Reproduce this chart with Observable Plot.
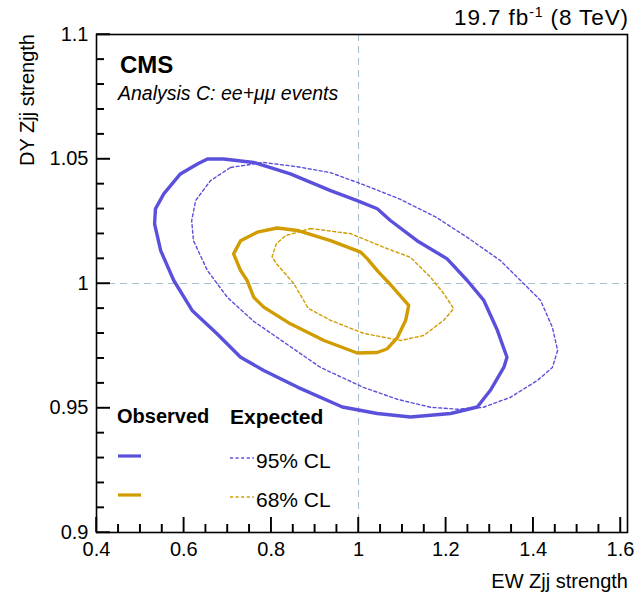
<!DOCTYPE html>
<html>
<head>
<meta charset="utf-8">
<script src="https://cdn.jsdelivr.net/npm/d3@7"></script>
<script src="https://cdn.jsdelivr.net/npm/@observablehq/plot@0.6"></script>
<style>
  html, body { margin: 0; padding: 0; background: #fff; }
  #wrap { position: relative; width: 644px; height: 596px; font-family: "Liberation Sans", Arial, Helvetica, sans-serif; color: #000; }
  .ov { position: absolute; white-space: nowrap; line-height: 1; pointer-events: none; }
</style>
</head>
<body>
<div id="wrap"></div>
<script>
// ---- data (EW Zjj strength, DY Zjj strength) ----
const observed95 = [[0.654,1.050],[0.691,1.050],[0.760,1.0486],[0.844,1.0440],[0.936,1.0373],[0.997,1.0333],[1.043,1.0300],[1.073,1.0253],[1.134,1.0172],[1.203,1.0099],[1.249,1.0012],[1.287,0.9932],[1.318,0.9812],[1.340,0.9704],[1.333,0.9664],[1.302,0.9571],[1.272,0.9504],[1.211,0.9478],[1.119,0.9464],[1.043,0.9478],[0.963,0.9504],[0.860,0.9584],[0.783,0.9651],[0.730,0.9704],[0.676,0.9798],[0.619,0.9892],[0.577,1.0012],[0.547,1.0132],[0.533,1.0239],[0.535,1.0300],[0.554,1.0360],[0.592,1.0440],[0.631,1.0480]];
const expected95 = [[0.707,1.0466],[0.782,1.0486],[0.860,1.0469],[0.936,1.0445],[1.011,1.0397],[1.092,1.0341],[1.179,1.0265],[1.250,1.0184],[1.325,1.0092],[1.378,1.0000],[1.417,0.9932],[1.444,0.9824],[1.456,0.9731],[1.444,0.9663],[1.410,0.9611],[1.348,0.9543],[1.286,0.9503],[1.227,0.9495],[1.165,0.9503],[1.089,0.9535],[1.011,0.9583],[0.913,0.9663],[0.837,0.9755],[0.760,0.9848],[0.700,0.9944],[0.654,1.0052],[0.622,1.0172],[0.618,1.0253],[0.627,1.0333],[0.661,1.0413]];
const observed68 = [[0.814,1.0223],[0.860,1.0213],[0.936,1.0172],[1.005,1.0126],[1.020,1.0100],[1.043,1.0052],[1.073,0.9996],[1.115,0.9912],[1.108,0.9852],[1.089,0.9783],[1.066,0.9738],[1.043,0.9723],[0.997,0.9721],[0.921,0.9771],[0.844,0.9838],[0.783,0.9905],[0.760,0.9945],[0.745,1.0012],[0.730,1.0052],[0.714,1.0119],[0.730,1.0172],[0.768,1.0206]];
const expected68 = [[0.890,1.0221],[0.982,1.0200],[1.057,1.0146],[1.119,1.0105],[1.165,1.0025],[1.195,0.9960],[1.218,0.9899],[1.195,0.9852],[1.149,0.9791],[1.096,0.9771],[1.011,0.9800],[0.936,0.9852],[0.885,0.9900],[0.852,0.9999],[0.812,1.0080],[0.802,1.0108],[0.812,1.0160],[0.833,1.0192]];
const xMajorTicks = [0.4, 0.6, 0.8, 1, 1.2, 1.4, 1.6];
const yMajorTicks = [0.9, 0.95, 1, 1.05, 1.1];
const xDomain = [0.4, 1.616];
const yDomain = [0.9, 1.1];
const smHypothesis = 1; // dashed reference lines
const legendLabels = ["95% CL", "68% CL"];

const BLUE = "#5a50dc";
const GOLD = "#d19c00";
const GRID = "#a9c0cf";

const W = 644, H = 596, mT = 34, mR = 17, mB = 64, mL = 96;
const frameW = W - mL - mR, frameH = H - mT - mB;

const xMinor = d3.range(0, 25).map(i => +(0.4 + i * 0.05).toFixed(2)).filter(v => !xMajorTicks.some(m => Math.abs(m - v) < 1e-6));
const yMinor = d3.range(0, 21).map(i => +(0.9 + i * 0.01).toFixed(2)).filter(v => !yMajorTicks.some(m => Math.abs(m - v) < 1e-6));

const ySpan = yDomain[1] - yDomain[0], xSpan = xDomain[1] - xDomain[0];
const xTickEnd = len => yDomain[0] + ySpan * len / frameH;
const yTickEnd = len => xDomain[0] + xSpan * len / frameW;

const toObj = arr => arr.map(([x, y]) => ({x, y}));

const chart = Plot.plot({
  width: W, height: H,
  marginTop: mT, marginRight: mR, marginBottom: mB, marginLeft: mL,
  style: {fontFamily: '"Liberation Sans", Arial, Helvetica, sans-serif', color: "#000", background: "#fff"},
  x: {domain: xDomain, label: null},
  y: {domain: yDomain, label: null},
  marks: [
    Plot.ruleX([smHypothesis], {stroke: GRID, strokeWidth: 1.1, strokeDasharray: "7,5"}),
    Plot.ruleY([smHypothesis], {stroke: GRID, strokeWidth: 1.1, strokeDasharray: "7,5"}),
    Plot.line(toObj(expected95), {x: "x", y: "y", curve: "linear-closed", stroke: BLUE, strokeWidth: 1.4, strokeDasharray: "3,2.6"}),
    Plot.line(toObj(expected68), {x: "x", y: "y", curve: "linear-closed", stroke: GOLD, strokeWidth: 1.4, strokeDasharray: "3,2.6"}),
    Plot.line(toObj(observed95), {x: "x", y: "y", curve: "linear-closed", stroke: BLUE, strokeWidth: 3.4, strokeLinejoin: "round"}),
    Plot.line(toObj(observed68), {x: "x", y: "y", curve: "linear-closed", stroke: GOLD, strokeWidth: 3.4, strokeLinejoin: "round"}),
    Plot.axisX({anchor: "bottom", ticks: xMajorTicks, tickSize: 0, tickPadding: 9, fontSize: 20, tickFormat: d => String(d)}),
    Plot.axisY({anchor: "left", ticks: yMajorTicks, tickSize: 0, tickPadding: 8, fontSize: 20, tickFormat: d => String(d)}),
    Plot.frame({stroke: "black", strokeWidth: 1.6}),
    Plot.ruleX(xMajorTicks, {x: d => d, y1: yDomain[0], y2: xTickEnd(15), stroke: "black", strokeWidth: 1.4}),
    Plot.ruleX(xMinor, {x: d => d, y1: yDomain[0], y2: xTickEnd(8), stroke: "black", strokeWidth: 1.4}),
    Plot.ruleY(yMajorTicks, {y: d => d, x1: xDomain[0], x2: yTickEnd(14), stroke: "black", strokeWidth: 1.4}),
    Plot.ruleY(yMinor, {y: d => d, x1: xDomain[0], x2: yTickEnd(8), stroke: "black", strokeWidth: 1.4})
  ]
});

const wrap = document.getElementById("wrap");
wrap.appendChild(chart);

// inward ROOT-style ticks, also placed on a top layer through the chart's own scales
(function drawTickLayer() {
  const sx = chart.scale("x"), sy = chart.scale("y");
  const X = v => sx.apply(v), Y = v => sy.apply(v);
  const yBase = Y(yDomain[0]), xBase = X(xDomain[0]);
  const svg = d3.create("svg").attr("width", W).attr("height", H)
    .style("position", "absolute").style("left", "0px").style("top", "0px").style("pointer-events", "none");
  const g = svg.append("g").attr("stroke", "black").attr("stroke-width", 1.4);
  const addX = (vals, len) => vals.forEach(v => g.append("line").attr("x1", X(v)).attr("x2", X(v)).attr("y1", yBase).attr("y2", yBase - len));
  const addY = (vals, len) => vals.forEach(v => g.append("line").attr("y1", Y(v)).attr("y2", Y(v)).attr("x1", xBase).attr("x2", xBase + len));
  addX(xMajorTicks, 15); addX(xMinor, 8);
  addY(yMajorTicks, 14); addY(yMinor, 8);
  wrap.appendChild(svg.node());
})();

function ov(html, style) {
  const d = document.createElement("div");
  d.className = "ov";
  d.innerHTML = html;
  Object.assign(d.style, style);
  wrap.appendChild(d);
  return d;
}
// header
ov('19.7 fb<sup style="font-size:14px;vertical-align:8px;line-height:0">-1</sup> (8 TeV)', {right: "15px", top: "7px", fontSize: "22.5px", letterSpacing: "0.9px"});
// axis titles
ov('EW Zjj strength', {right: "16px", top: "571px", fontSize: "20px"});
ov('DY Zjj strength', {left: "17px", top: "34px", fontSize: "20px", transformOrigin: "0 0", transform: "rotate(-90deg) translateX(-100%)"});
// CMS label
ov('CMS', {left: "120px", top: "53px", fontSize: "24px", fontWeight: "bold"});
ov('Analysis C: ee+μμ events', {left: "118px", top: "84px", fontSize: "19.5px", fontStyle: "italic"});
// legend
ov('Observed', {left: "117px", top: "406px", fontSize: "20px", fontWeight: "bold"});
ov('Expected', {left: "230px", top: "406px", fontSize: "21px", fontWeight: "bold"});
const legendRows = [
  {label: legendLabels[0], color: BLUE, top: 449},
  {label: legendLabels[1], color: GOLD, top: 488}
];
legendRows.forEach(r => {
  ov(`<svg width="26" height="16"><line x1="0" x2="23" y1="8" y2="8" stroke="${r.color}" stroke-width="3.2"/></svg>`, {left: "118px", top: (r.top - 1) + "px"});
  ov(`<svg width="26" height="16"><line x1="0" x2="24" y1="9" y2="9" stroke="${r.color}" stroke-width="1.4" stroke-dasharray="3,2.6"/></svg>`, {left: "230px", top: (r.top) + "px"});
  ov(r.label, {left: "256px", top: (r.top + 1) + "px", fontSize: "21px"});
});
</script>
</body>
</html>
